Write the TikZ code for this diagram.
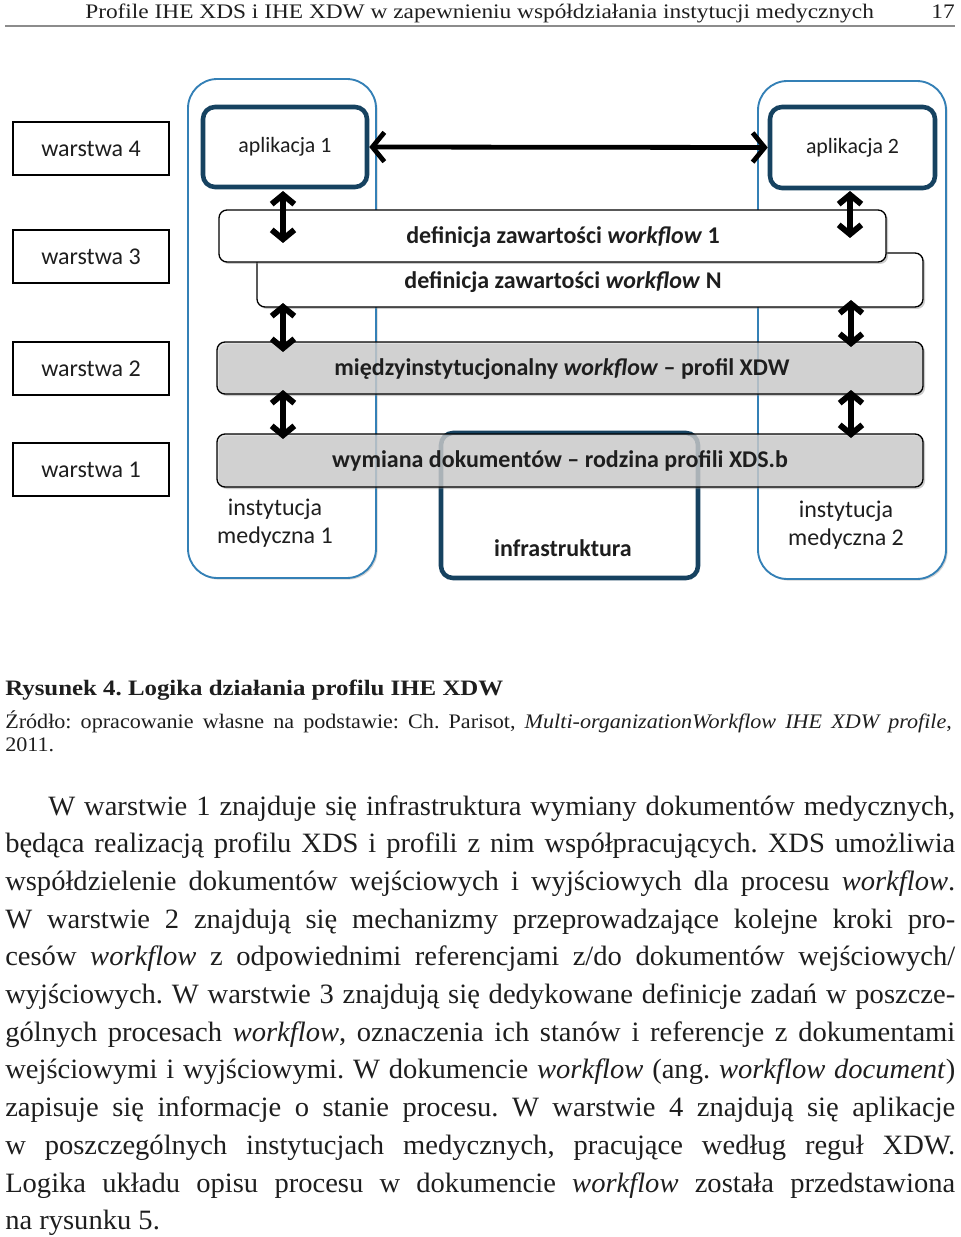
\documentclass[tikz,border=0pt]{standalone}
\usepackage{fontspec}
\setmainfont{Liberation Serif}
\newfontfamily\bodyfont[FakeStretch=1.02]{Liberation Serif}
\newfontfamily\headfont[FakeStretch=1.13]{Liberation Serif}
\newfontfamily\capfont[FakeStretch=1.13]{Liberation Serif}
\newfontfamily\srcfont[FakeStretch=1.07]{Liberation Serif}
\newfontfamily\diag{Carlito}
\usetikzlibrary{arrows.meta,fit,shadows}
\definecolor{instblue}{RGB}{52,128,182}
\definecolor{appblue}{RGB}{22,66,96}
\definecolor{boxgray}{RGB}{212,212,212}
\definecolor{rulegray}{RGB}{140,140,140}
\definecolor{txt}{RGB}{30,30,30}
\begin{document}
\frenchspacing
\begin{tikzpicture}[x=0.75pt,y=-0.75pt,
  dfont/.style={inner sep=0, font=\diag\fontsize{18}{22}\selectfont, text=txt},
  afont/.style={inner sep=0, font=\diag\fontsize{16.4}{20}\selectfont, text=txt},
  bfont/.style={inner sep=0, font=\diag\bfseries\fontsize{18}{22}\selectfont, text=txt},
  layerbox/.style={draw=black, line width=1pt, inner sep=0, fill=white},
  instbox/.style={draw=instblue, line width=1.4pt, rounded corners=22pt, inner sep=0,
     drop shadow={shadow xshift=1.2pt, shadow yshift=-1.2pt, opacity=0.35}, fill=white},
  appbox/.style={draw=appblue, line width=3.4pt, rounded corners=9pt, inner sep=0, fill=white},
  defbox/.style={draw=black, line width=1pt, rounded corners=6pt, inner sep=0, fill=white,
     drop shadow={shadow xshift=1.5pt, shadow yshift=-1.5pt, opacity=0.4}},
  graybox/.style={defbox, fill=boxgray, fill opacity=0.72},
  harrow/.style={line width=3.6pt, {Straight Barb[length=9pt,width=22pt]}-{Straight Barb[length=9pt,width=22pt]}},
  varrow/.style={line width=4.4pt, {Straight Barb[length=7pt,width=17pt]}-{Straight Barb[length=7pt,width=17pt]}},
  line/.style={anchor=base west, inner sep=0, font=\bodyfont\fontsize{21}{24}\selectfont, text=txt},
]
\useasboundingbox (0,0) rectangle (960,1237);

% header
\node[anchor=base west, inner sep=0, font=\headfont\fontsize{15.5}{18}\selectfont, text=txt] (head) at (85,19)
  {Profile IHE XDS i IHE XDW w zapewnieniu współdziałania instytucji medycznych};
\node[anchor=base east, inner sep=0, font=\headfont\fontsize{15.5}{18}\selectfont, text=txt] (pno) at (955,19) {17};
\draw[rulegray, line width=1pt] (5,26) -- (955,26);

% institutions and infrastructure
\node[instbox, fit={(188,79)(376,578)}] (inst1) {};
\node[instbox, fit={(758,81)(946,579)}] (inst2) {};
\node[appbox, fill=none, fit={(441,433)(698,578)}] (infra) {};
\node[bfont] (infratxt) at (563,548) {infrastruktura};

% applications
\node[appbox, fit={(203,107)(367,187)}] (app1) {};
\node[afont] (app1t) at (app1) {aplikacja 1};
\node[appbox, fit={(770,107)(935,188)}] (app2) {};
\node[afont] (app2t) at (app2) {aplikacja 2};

% layers
\node[layerbox, fit={(13,122)(169,175)}] (w4) {};
\node[dfont] (w4t) at (w4) {warstwa 4};
\node[layerbox, fit={(13,230)(169,283)}] (w3) {};
\node[dfont] (w3t) at (w3) {warstwa 3};
\node[layerbox, fit={(13,342)(169,395)}] (w2) {};
\node[dfont] (w2t) at (w2) {warstwa 2};
\node[layerbox, fit={(13,443)(169,496)}] (w1) {};
\node[dfont] (w1t) at (w1) {warstwa 1};

% workflow definitions
\node[defbox, fit={(257,253)(923,307)}] (defN) {};
\node[bfont] (defNt) at (563,282) {definicja zawartości \textit{workflow} N};
\node[defbox, fit={(219,210)(886,262)}] (def1) {};
\node[bfont] (def1t) at (563,237) {definicja zawartości \textit{workflow} 1};

% gray layers
\node[graybox, fit={(217,342)(923,394)}] (xdw) {};
\node[bfont] (xdwt) at (562,369) {międzyinstytucjonalny \textit{workflow} – profil XDW};
\node[graybox, fit={(217,434)(923,487)}] (xds) {};
\node[bfont] (xdst) at (560,461) {wymiana dokumentów – rodzina profili XDS.b};

% institution labels
\node[dfont, align=center, font=\diag\fontsize{18}{21}\selectfont] (inst1t) at (275,523) {instytucja\\medyczna 1};
\node[dfont, align=center, font=\diag\fontsize{18}{21}\selectfont] (inst2t) at (846,525) {instytucja\\medyczna 2};

% arrows
\draw[harrow] (app1.east) -- (app2.west);
\coordinate (l1a) at (283,191); \coordinate (l1b) at (283,243);
\coordinate (l2a) at (283,303); \coordinate (l2b) at (283,352);
\coordinate (l3a) at (283,390); \coordinate (l3b) at (283,439);
\coordinate (r1a) at (850,191); \coordinate (r1b) at (850,238);
\coordinate (r2a) at (851,300); \coordinate (r2b) at (851,347);
\coordinate (r3a) at (851,390); \coordinate (r3b) at (851,438);
\draw[varrow] (l1a) -- (l1b);
\draw[varrow] (l2a) -- (l2b);
\draw[varrow] (l3a) -- (l3b);
\draw[varrow] (r1a) -- (r1b);
\draw[varrow] (r2a) -- (r2b);
\draw[varrow] (r3a) -- (r3b);

% caption
\node[anchor=base west, inner sep=0, font=\capfont\bfseries\fontsize{16.5}{18}\selectfont, text=txt] (cap) at (5,695)
  {Rysunek 4. Logika działania profilu IHE XDW};
\node[anchor=base west, inner sep=0, font=\srcfont\fontsize{15.5}{18}\selectfont, text=txt] (src1) at (5,728)
  {\makebox[710pt][s]{Źródło: opracowanie własne na podstawie: Ch. Parisot, \textit{Multi-organizationWorkflow IHE XDW profile},}};
\node[anchor=base west, inner sep=0, font=\srcfont\fontsize{15.5}{18}\selectfont, text=txt] (src2) at (5,751) {2011.};

% paragraph
\node[line] (p1) at (48,815) {\makebox[680.25pt][s]{W warstwie 1 znajduje się infrastruktura wymiany dokumentów medycznych,}};
\node[line] (p2) at (5,852.7) {\makebox[712.5pt][s]{będąca realizacją profilu XDS i profili z nim współpracujących. XDS umożliwia}};
\node[line] (p3) at (5,890.4) {\makebox[712.5pt][s]{współdzielenie dokumentów wejściowych i wyjściowych dla procesu \textit{workflow}.}};
\node[line] (p4) at (5,928.1) {\makebox[712.5pt][s]{W warstwie 2 znajdują się mechanizmy przeprowadzające kolejne kroki pro-}};
\node[line] (p5) at (5,965.8) {\makebox[712.5pt][s]{cesów \textit{workflow} z odpowiednimi referencjami z/do dokumentów wejściowych/}};
\node[line] (p6) at (5,1003.5) {\makebox[712.5pt][s]{wyjściowych. W warstwie 3 znajdują się dedykowane definicje zadań w poszcze-}};
\node[line] (p7) at (5,1041.2) {\makebox[712.5pt][s]{gólnych procesach \textit{workflow}, oznaczenia ich stanów i referencje z dokumentami}};
\node[line] (p8) at (5,1078.9) {\makebox[712.5pt][s]{wejściowymi i wyjściowymi. W dokumencie \textit{workflow} (ang. \textit{workflow document})}};
\node[line] (p9) at (5,1116.6) {\makebox[712.5pt][s]{zapisuje się informacje o stanie procesu. W warstwie 4 znajdują się aplikacje}};
\node[line] (p10) at (5,1154.3) {\makebox[712.5pt][s]{w poszczególnych instytucjach medycznych, pracujące według reguł XDW.}};
\node[line] (p11) at (5,1192) {\makebox[712.5pt][s]{Logika układu opisu procesu w dokumencie \textit{workflow} została przedstawiona}};
\node[line] (p12) at (5,1229.7) {na rysunku 5.};
\end{tikzpicture}
\end{document}
